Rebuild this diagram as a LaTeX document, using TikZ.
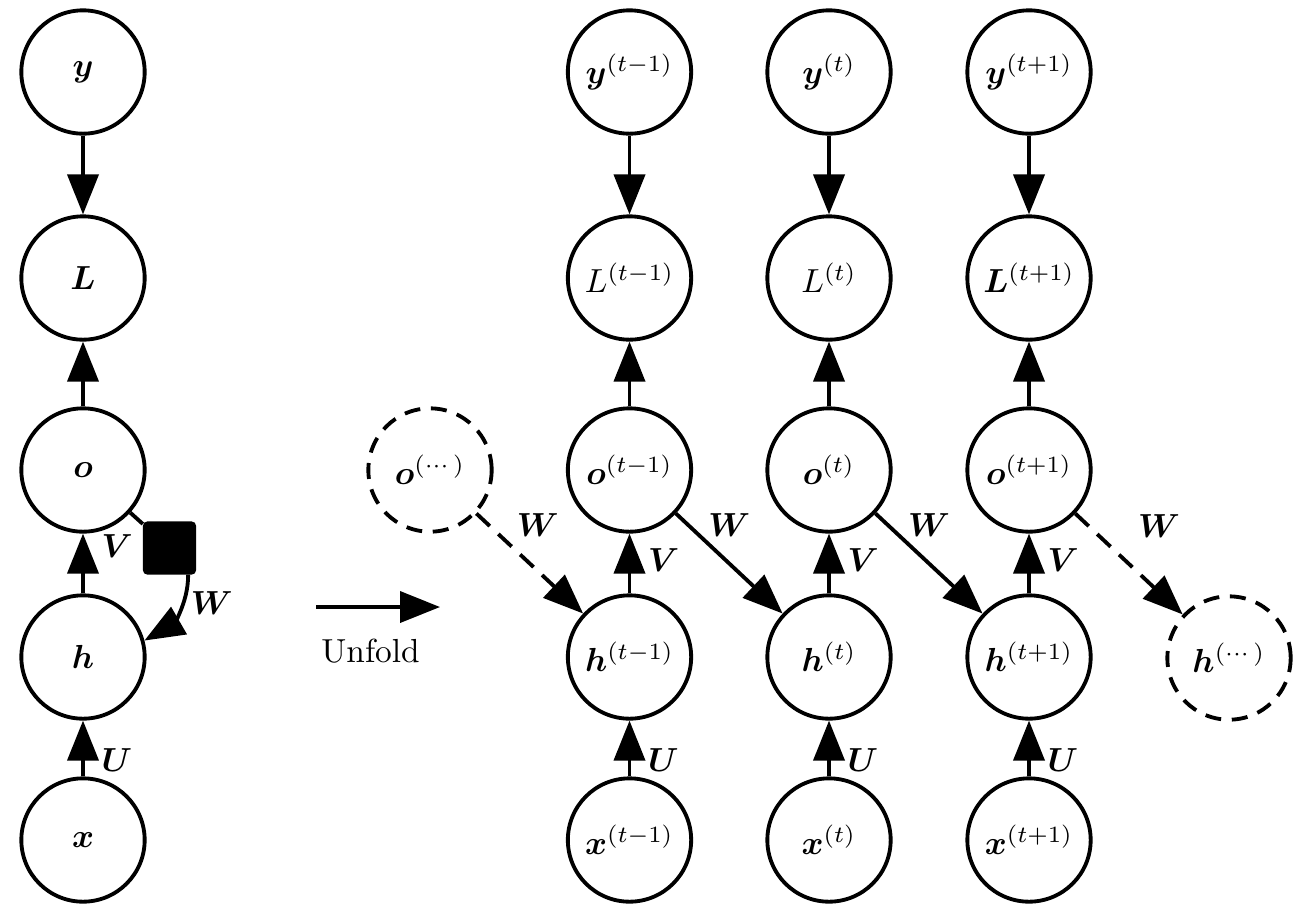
\documentclass[tikz,border=0pt]{standalone}
\usepackage{amsmath,bm}
\usetikzlibrary{arrows.meta}
\begin{document}
\begin{tikzpicture}[x=0.3pt,y=-0.3pt,
  nd/.style={circle, draw, line width=1.15pt, minimum size=37pt, inner sep=0pt},
  dnd/.style={nd, dash pattern=on 4.8pt off 3.2pt},
  arr/.style={line width=1.15pt, -{Triangle[length=12pt,width=9.3pt]}},
  darr/.style={arr, dash pattern=on 5.5pt off 3.5pt},
  lab/.style={inner sep=0pt},
  vlab/.style={lab, anchor=west, xshift=5pt},
  wlab/.style={lab, midway, above=7.5pt}]
\useasboundingbox (0,0) rectangle (1312,914);

% left folded graph
\node[nd] (y) at (83,72) {$\bm{y}$};
\node[nd] (L) at (83,278) {$\bm{L}$};
\node[nd] (o) at (83,470) {$\bm{o}$};
\node[nd] (h) at (83,657) {$\bm{h}$};
\node[nd] (x) at (83,840) {$\bm{x}$};
\node[fill, draw, line width=1pt, minimum size=15pt, inner sep=0pt, rounded corners=1pt] (sq) at (169.5,548) {};

\draw[arr] (y) -- (L);
\draw[arr] (o) -- (L);
\draw[arr] (h) -- node[vlab, pos=0.79] {$\bm{V}$} (o);
\draw[arr] (x) -- node[vlab, pos=0.3] {$\bm{U}$} (h);
\draw[line width=1.15pt] (o) -- (sq);
\draw[arr] (sq.-55) to[out=-90, in=30] node[lab, pos=0.35, anchor=west, xshift=2pt] {$\bm{W}$} (h.15);

% unfold arrow
\coordinate (ua) at (316,607);
\coordinate (ub) at (440,607);
\draw[arr] (ua) -- node[lab, pos=0.44, below=9pt] {Unfold} (ub);

% unfolded graph
\node[dnd] (od) at (430,470) {$\bm{o}^{(\cdots)}$};
\node[dnd] (hd) at (1229,658) {$\bm{h}^{(\cdots)}$};

\node[nd] (ya) at (629.5,72) {$\bm{y}^{(t-1)}$};
\node[nd] (La) at (629.5,278) {$L^{(t-1)}$};
\node[nd] (oa) at (629.5,470) {$\bm{o}^{(t-1)}$};
\node[nd] (ha) at (629.5,657) {$\bm{h}^{(t-1)}$};
\node[nd] (xa) at (629.5,840) {$\bm{x}^{(t-1)}$};

\node[nd] (yb) at (829,72) {$\bm{y}^{(t)}$};
\node[nd] (Lb) at (829,278) {$L^{(t)}$};
\node[nd] (ob) at (829,470) {$\bm{o}^{(t)}$};
\node[nd] (hb) at (829,657) {$\bm{h}^{(t)}$};
\node[nd] (xb) at (829,840) {$\bm{x}^{(t)}$};

\node[nd] (yc) at (1029,72) {$\bm{y}^{(t+1)}$};
\node[nd] (Lc) at (1029,278) {$\bm{L}^{(t+1)}$};
\node[nd] (oc) at (1029,470) {$\bm{o}^{(t+1)}$};
\node[nd] (hc) at (1029,657) {$\bm{h}^{(t+1)}$};
\node[nd] (xc) at (1029,840) {$\bm{x}^{(t+1)}$};

\foreach \c in {a,b,c}{
  \draw[arr] (y\c) -- (L\c);
  \draw[arr] (o\c) -- (L\c);
  \draw[arr] (h\c) -- node[vlab, pos=0.55] {$\bm{V}$} (o\c);
  \draw[arr] (x\c) -- node[vlab, pos=0.3] {$\bm{U}$} (h\c);
}

\draw[darr] (od) -- node[wlab, xshift=2.4pt] {$\bm{W}$} (ha);
\draw[arr] (oa) -- node[wlab] {$\bm{W}$} (hb);
\draw[arr] (ob) -- node[wlab] {$\bm{W}$} (hc);
\draw[darr] (oc) -- node[wlab, xshift=9pt] {$\bm{W}$} (hd);
\end{tikzpicture}
\end{document}
